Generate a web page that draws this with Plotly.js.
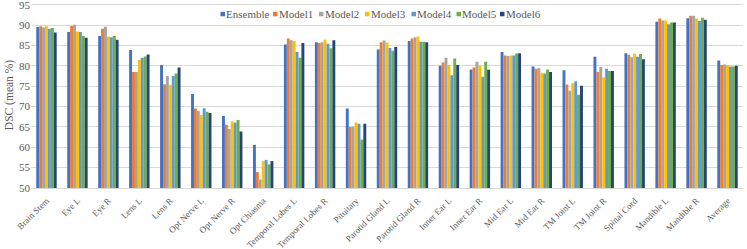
<!DOCTYPE html>
<html><head><meta charset="utf-8">
<script src="https://cdn.plot.ly/plotly-3.0.1.min.js"></script>
<style>html,body{margin:0;padding:0;background:#fff}#chart{width:747px;height:249px}</style>
</head><body><div id="chart"></div>
<script>
const categories = ["Brain Stem","Eye L","Eye R","Lens L","Lens R","Opt Nerve L","Opt Nerve R","Opt Chiasma","Temporal Lobes L","Temporal Lobes R","Pituitary","Parotid Gland L","Parotid Gland R","Inner Ear L","Inner Ear R","Mid Ear L","Mid Ear R","TM Joint L","TM Joint R","Spinal Cord","Mandible L","Mandible R","Average"];
const seriesNames = ["Ensemble","Model1","Model2","Model3","Model4","Model5","Model6"];
const ensemble = [89.5,88.3,87.3,83.9,80.2,73.1,67.7,60.6,85.2,85.8,69.5,84.0,86.1,80.0,79.1,83.4,79.8,78.9,82.2,83.1,90.8,91.7,81.3];
const model1   = [89.7,89.8,89.1,78.5,75.5,69.5,65.5,53.9,86.7,85.6,65.0,85.8,86.7,80.8,79.6,82.5,79.3,75.4,78.5,82.7,91.6,92.3,80.2];
const model2   = [89.4,90.1,89.6,78.5,77.5,68.9,64.5,52.1,86.3,85.8,65.1,86.2,87.0,82.0,81.0,82.4,79.4,73.9,79.7,82.1,91.1,92.3,80.3];
const model3   = [89.7,88.4,87.2,81.4,75.3,67.9,66.3,56.6,86.1,86.4,66.1,85.7,87.2,80.2,80.0,82.5,78.3,75.7,77.2,83.0,91.1,91.6,80.2];
const model4   = [89.1,88.3,87.0,82.0,77.5,69.6,66.1,56.9,83.4,85.4,65.8,84.4,85.9,77.7,77.3,82.5,78.1,76.2,79.3,82.2,90.2,91.0,79.8];
const model5   = [89.3,87.3,87.3,82.3,78.1,68.7,66.7,55.8,82.0,84.3,61.9,83.7,85.9,81.8,81.0,83.0,79.1,72.9,78.7,82.9,90.6,91.8,79.8];
const model6   = [88.2,86.9,86.4,82.8,79.6,68.4,63.9,56.6,85.6,86.3,65.8,84.6,85.8,80.2,79.0,83.1,78.5,75.1,78.7,81.6,90.6,91.3,80.0];
const yTicks = [50,55,60,65,70,75,80,85,90,95];

const colors = ["#4472C4","#ED7D31","#A5A5A5","#FFC000","#5B9BD5","#70AD47","#264478"];
const allValues = [ensemble,model1,model2,model3,model4,model5,model6];
const traces = allValues.map((v,i)=>({type:"bar",name:seriesNames[i],x:categories,y:v,marker:{color:colors[i]},showlegend:false}));
const FF = "Liberation Serif, Times New Roman, serif";
const W=747,H=249,L=31,R=4,T=2,B=61;
const pw=W-L-R, ph=H-T-B;
const yMax = 50 + 45*(ph/183.3);
const px2x = p => (p-L)/pw, px2y = p => (H-B-p)/ph;
// custom legend layout (pixel positions of each entry's marker)
const legendPx = [220.5,273,319,365,411.5,456.5,500];
const shapes=[], annotations=[];
legendPx.forEach((p,i)=>{
  shapes.push({type:"rect",xref:"paper",yref:"paper",x0:px2x(p),x1:px2x(p+4.5),y0:px2y(16.3),y1:px2y(11.8),fillcolor:colors[i],line:{width:0}});
  annotations.push({xref:"paper",yref:"paper",x:px2x(p+4.5),y:px2y(14),xanchor:"left",yanchor:"middle",text:seriesNames[i],showarrow:false,font:{family:FF,size:11,color:"#595959"},xshift:-1});
});
Plotly.newPlot("chart",traces,{
  width:W,height:H,
  margin:{l:L,r:R,t:T,b:B},
  barmode:"group",bargap:0.34,bargroupgap:0,
  font:{family:FF,color:"#595959",size:11},
  paper_bgcolor:"#fff",plot_bgcolor:"#fff",
  showlegend:false,
  shapes:shapes, annotations:annotations,
  xaxis:{tickangle:-45,tickfont:{size:9},showgrid:false,showline:true,linecolor:"#d9d9d9",ticks:"outside",ticklen:3,tickcolor:"rgba(0,0,0,0)",automargin:false},
  yaxis:{range:[50,yMax],tickvals:yTicks,ticktext:yTicks.map(String),gridcolor:"#d9d9d9",zeroline:false,showline:false,ticks:"",tickfont:{size:11},ticklabeloverflow:"allow",
    title:{text:"DSC (mean %)",font:{size:11.5,color:"#595959"},standoff:2},automargin:false}
},{displayModeBar:false,staticPlot:true});
</script></body></html>
